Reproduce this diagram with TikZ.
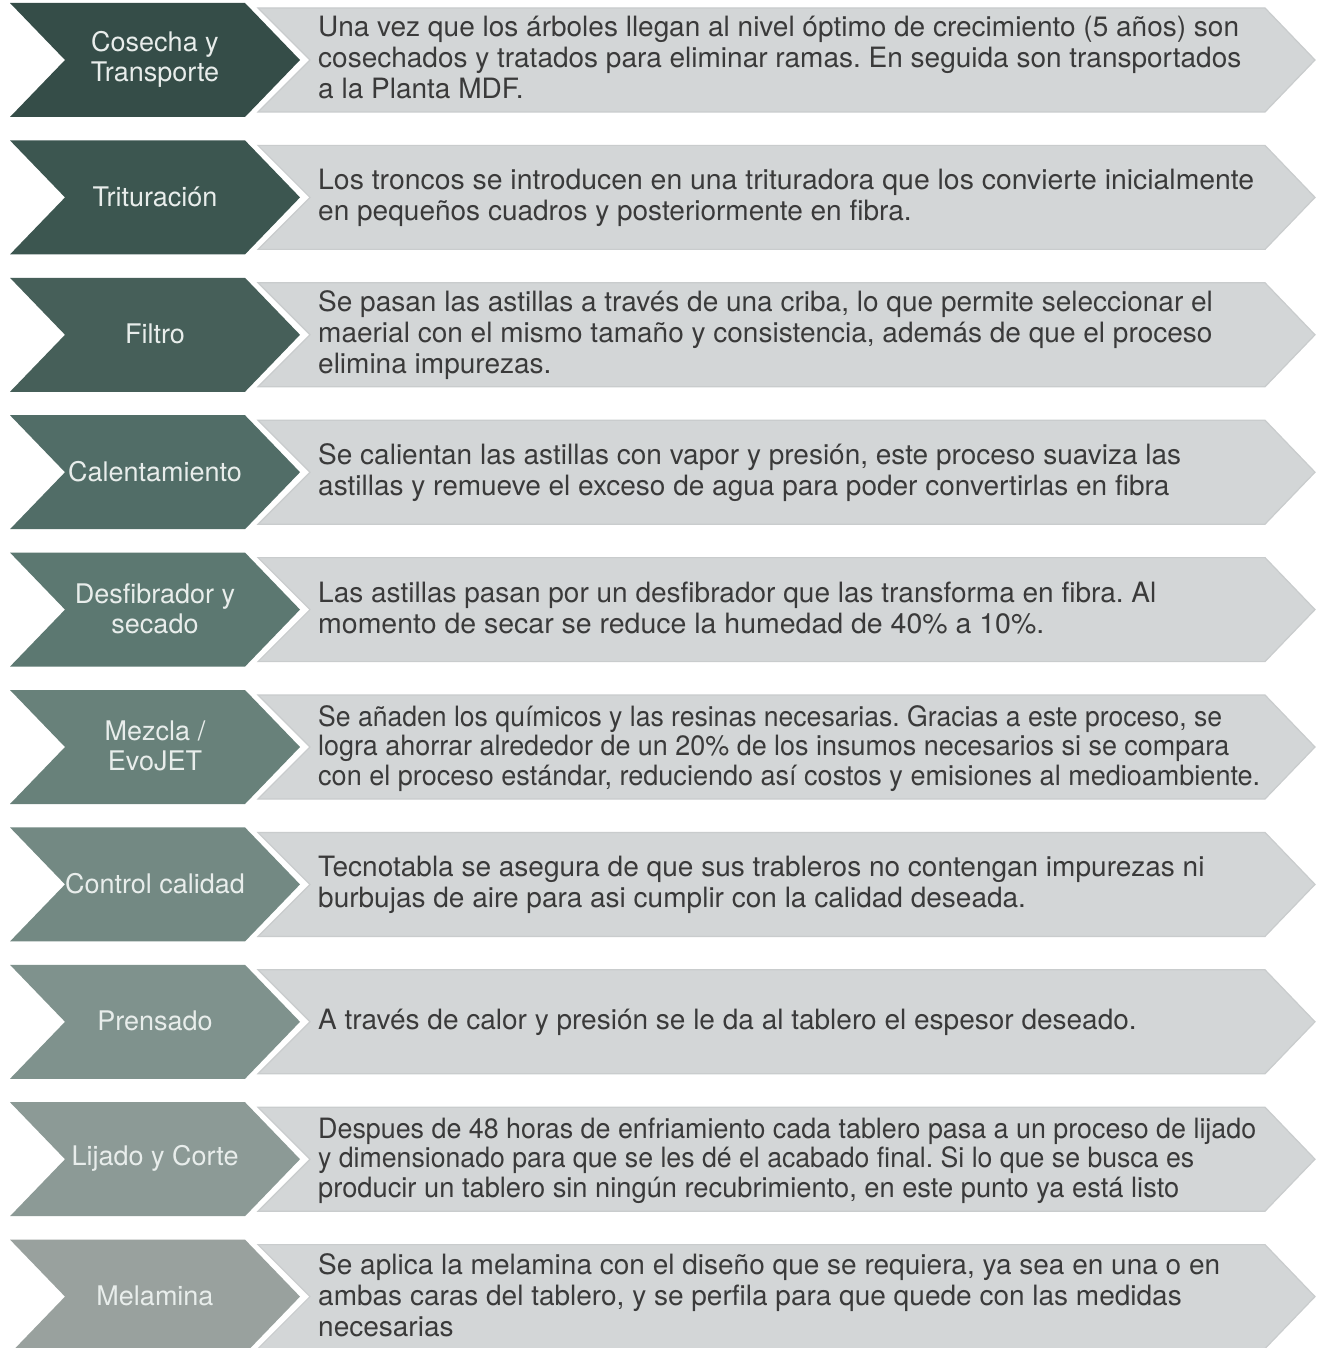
\documentclass[tikz,border=0pt]{standalone}
\usepackage{fontspec}
\setmainfont{TeX Gyre Heros}
\frenchspacing

\definecolor{boxgrey}{HTML}{D3D6D7}
\definecolor{boxedge}{HTML}{C9CCCD}
\definecolor{bodyink}{HTML}{3A3A3A}
\definecolor{labelink}{HTML}{E8EDEB}
\definecolor{stepA}{HTML}{354D48}
\definecolor{stepB}{HTML}{3C5650}
\definecolor{stepC}{HTML}{465F59}
\definecolor{stepD}{HTML}{516D67}
\definecolor{stepE}{HTML}{5C7871}
\definecolor{stepF}{HTML}{68817A}
\definecolor{stepG}{HTML}{738983}
\definecolor{stepH}{HTML}{7F928D}
\definecolor{stepI}{HTML}{8C9A96}
\definecolor{stepJ}{HTML}{99A19E}

\tikzset{
  descbox/.style={fill=boxgrey, draw=boxedge, line width=1.2pt, line join=miter},
  steplabel/.style={text=labelink, font=\fontsize{27}{30}\selectfont, align=center, inner sep=0pt},
  bodyline/.style={text=bodyink, font=\fontsize{28}{31}\selectfont, anchor=base west, inner sep=0pt},
}

% a line set to the given width (pt) without changing its height
\newcommand\tightline[2]{\resizebox{#1pt}{\height}{#2}}

% one process step: dark chevron with its name, grey arrow with the description
% #1 row index, #2 chevron colour, #3 step name, #4 description lines
\newcommand\steprow[4]{%
  \begin{scope}[shift={(0,#1*137.4)}]
    \fill[#2] (10,3) -- (245,3) -- (300,60) -- (245,117) -- (10,117) -- (65,60) -- cycle;
    \filldraw[descbox] (258,8) -- (1265,8) -- (1315,60) -- (1265,112) -- (258,112) -- (310,60) -- cycle;
    \node[steplabel] (lab#1) at (155,59) {#3};
    #4
  \end{scope}}

\begin{document}
\begin{tikzpicture}[x=1pt, y=-1pt]
  \useasboundingbox (0,0) rectangle (1317,1348);
  \clip (0,0) rectangle (1317,1348);
  \fill[white] (0,0) rectangle (1317,1348);

  \steprow{0}{stepA}{Cosecha y\\Transporte}{%
    \node[bodyline] (b0a) at (318,37) {Una vez que los árboles llegan al nivel óptimo de crecimiento (5 años) son};
    \node[bodyline] (b0b) at (318,68) {cosechados y tratados para eliminar ramas. En seguida son transportados};
    \node[bodyline] (b0c) at (318,99) {a la Planta MDF.};}

  \steprow{1}{stepB}{Trituración}{%
    \node[bodyline] (b1a) at (318,52.5) {\tightline{936}{Los troncos se introducen en una trituradora que los convierte inicialmente}};
    \node[bodyline] (b1b) at (318,83.5) {en pequeños cuadros y posteriormente en fibra.};}

  \steprow{2}{stepC}{Filtro}{%
    \node[bodyline] (b2a) at (318,37) {Se pasan las astillas a través de una criba, lo que permite seleccionar el};
    \node[bodyline] (b2b) at (318,68) {maerial con el mismo tamaño y consistencia, además de que el proceso};
    \node[bodyline] (b2c) at (318,99) {elimina impurezas.};}

  \steprow{3}{stepD}{Calentamiento}{%
    \node[bodyline] (b3a) at (318,52.5) {Se calientan las astillas con vapor y presión, este proceso suaviza las};
    \node[bodyline] (b3b) at (318,83.5) {astillas y remueve el exceso de agua para poder convertirlas en fibra};}

  \steprow{4}{stepE}{Desfibrador y\\secado}{%
    \node[bodyline] (b4a) at (318,52.5) {Las astillas pasan por un desfibrador que las transforma en fibra. Al};
    \node[bodyline] (b4b) at (318,83.5) {\tightline{726}{momento de secar se reduce la humedad de 40\% a 10\%.}};}

  \steprow{5}{stepF}{Mezcla /\\EvoJET}{%
    \node[bodyline] (b5a) at (318,39) {\tightline{904}{Se añaden los químicos y las resinas necesarias. Gracias a este proceso, se}};
    \node[bodyline] (b5b) at (318,68.5) {\tightline{911}{logra ahorrar alrededor de un 20\% de los insumos necesarios si se compara}};
    \node[bodyline] (b5c) at (318,98) {\tightline{942}{con el proceso estándar, reduciendo así costos y emisiones al medioambiente.}};}

  \steprow{6}{stepG}{Control calidad}{%
    \node[bodyline] (b6a) at (318,52.5) {Tecnotabla se asegura de que sus trableros no contengan impurezas ni};
    \node[bodyline] (b6b) at (318,83.5) {burbujas de aire para asi cumplir con la calidad deseada.};}

  \steprow{7}{stepH}{Prensado}{%
    \node[bodyline] (b7a) at (318,68) {A través de calor y presión se le da al tablero el espesor deseado.};}

  \steprow{8}{stepI}{Lijado y Corte}{%
    \node[bodyline] (b8a) at (318,39) {\tightline{938}{Despues de 48 horas de enfriamiento cada tablero pasa a un proceso de lijado}};
    \node[bodyline] (b8b) at (318,68.5) {\tightline{876}{y dimensionado para que se les dé el acabado final. Si lo que se busca es}};
    \node[bodyline] (b8c) at (318,98) {\tightline{861}{producir un tablero sin ningún recubrimiento, en este punto ya está listo}};}

  \steprow{9}{stepJ}{Melamina}{%
    \node[bodyline] (b9a) at (318,38) {Se aplica la melamina con el diseño que se requiera, ya sea en una o en};
    \node[bodyline] (b9b) at (318,69) {ambas caras del tablero, y se perfila para que quede con las medidas};
    \node[bodyline] (b9c) at (318,100) {necesarias};}
\end{tikzpicture}
\end{document}
